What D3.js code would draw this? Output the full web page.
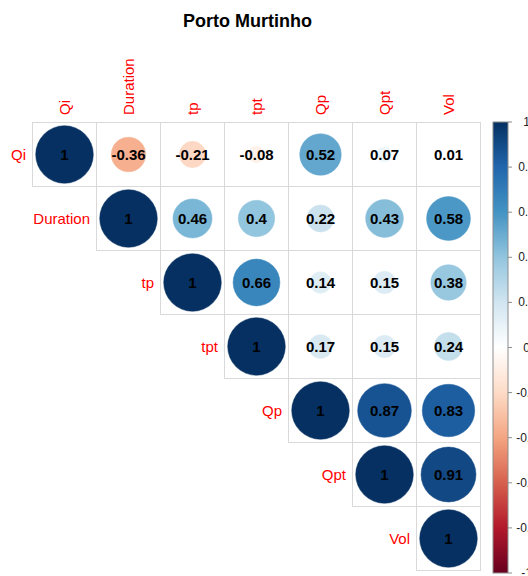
<!DOCTYPE html>
<html>
<head>
<meta charset="utf-8">
<script src="https://cdn.jsdelivr.net/npm/d3@7"></script>
<style>
  html, body { margin: 0; padding: 0; background: #fff; }
  svg { display: block; }
  text { font-family: "Liberation Sans", Arial, sans-serif; }
</style>
</head>
<body>
<svg id="chart" width="528" height="576"></svg>
<script>
const title = "Porto Murtinho";
const variables = ["Qi", "Duration", "tp", "tpt", "Qp", "Qpt", "Vol"];
// upper triangle rows (from diagonal to the right)
const rowQi       = [1, -0.36, -0.21, -0.08, 0.52, 0.07, 0.01];
const rowDuration = [1, 0.46, 0.4, 0.22, 0.43, 0.58];
const rowTp       = [1, 0.66, 0.14, 0.15, 0.38];
const rowTpt      = [1, 0.17, 0.15, 0.24];
const rowQp       = [1, 0.87, 0.83];
const rowQpt      = [1, 0.91];
const rowVol      = [1];
const colorbarTicks = [-1, -0.8, -0.6, -0.4, -0.2, 0, 0.2, 0.4, 0.6, 0.8, 1];
const paletteColors = ["#67001F", "#B2182B", "#D6604D", "#F4A582", "#FDDBC7", "#FFFFFF",
                       "#D1E5F0", "#92C5DE", "#4393C3", "#2166AC", "#053061"];

const rows = [rowQi, rowDuration, rowTp, rowTpt, rowQp, rowQpt, rowVol];
const cells = [];
rows.forEach((r, i) => r.forEach((v, k) => {
  cells.push({ row: variables[i], col: variables[i + k], value: v });
}));

const svg = d3.select("#chart");

const x = d3.scaleBand().domain(variables).range([32.5, 480.5]);
const y = d3.scaleBand().domain(variables).range([122.5, 570.5]);
const color = d3.scaleLinear()
  .domain(d3.range(paletteColors.length).map(i => -1 + 2 * i / (paletteColors.length - 1)))
  .range(paletteColors)
  .interpolate(d3.interpolateRgb);
const rScale = d3.scaleSqrt().domain([0, 1]).range([0, 0.45 * x.bandwidth()]);

// title
svg.append("text")
  .attr("x", 247.5).attr("y", 27)
  .attr("text-anchor", "middle")
  .attr("font-size", 18).attr("font-weight", "bold")
  .attr("fill", "#000")
  .text(title);

// cell backgrounds + grid
const g = svg.append("g");
g.selectAll("rect.cell").data(cells).join("rect")
  .attr("class", "cell")
  .attr("x", d => x(d.col)).attr("y", d => y(d.row))
  .attr("width", x.bandwidth()).attr("height", y.bandwidth())
  .attr("fill", "#fff").attr("stroke", "#d9d9d9").attr("stroke-width", 1);

// circles
g.selectAll("circle").data(cells).join("circle")
  .attr("cx", d => x(d.col) + x.bandwidth() / 2)
  .attr("cy", d => y(d.row) + y.bandwidth() / 2)
  .attr("r", d => rScale(Math.abs(d.value)))
  .attr("fill", d => color(d.value))
  .attr("stroke", d => color(d.value)).attr("stroke-width", 0.5);

// numbers
g.selectAll("text.num").data(cells).join("text")
  .attr("class", "num")
  .attr("x", d => x(d.col) + x.bandwidth() / 2)
  .attr("y", d => y(d.row) + y.bandwidth() / 2)
  .attr("text-anchor", "middle").attr("dominant-baseline", "central")
  .attr("font-size", 15).attr("font-weight", "bold").attr("fill", "#000")
  .text(d => String(d.value));

// row labels
svg.selectAll("text.rowlab").data(variables).join("text")
  .attr("class", "rowlab")
  .attr("x", d => x(d) - 6.5)
  .attr("y", d => y(d) + y.bandwidth() / 2)
  .attr("text-anchor", "end").attr("dominant-baseline", "central")
  .attr("font-size", 15).attr("fill", "#FF0000")
  .text(d => d);

// column labels
svg.selectAll("text.collab").data(variables).join("text")
  .attr("class", "collab")
  .attr("transform", d => `translate(${x(d) + x.bandwidth() / 2},115) rotate(-90)`)
  .attr("text-anchor", "start").attr("dominant-baseline", "central")
  .attr("font-size", 15).attr("fill", "#FF0000")
  .text(d => d);

// colorbar
const cb = d3.scaleLinear().domain([-1, 1]).range([573, 122]);
const defs = svg.append("defs");
const grad = defs.append("linearGradient").attr("id", "cbgrad")
  .attr("x1", 0).attr("y1", 1).attr("x2", 0).attr("y2", 0);
grad.selectAll("stop").data(d3.range(0, 101)).join("stop")
  .attr("offset", d => d + "%")
  .attr("stop-color", d => color(-1 + 2 * d / 100));
svg.append("rect")
  .attr("x", 493).attr("y", cb(1))
  .attr("width", 15).attr("height", cb(-1) - cb(1))
  .attr("fill", "url(#cbgrad)")
  .attr("stroke", "#8c8c8c").attr("stroke-width", 1);
const cbAxis = svg.append("g");
cbAxis.selectAll("line").data(colorbarTicks).join("line")
  .attr("x1", 508).attr("x2", 512)
  .attr("y1", d => cb(d)).attr("y2", d => cb(d))
  .attr("stroke", "#8c8c8c");
cbAxis.selectAll("text").data(colorbarTicks).join("text")
  .attr("x", 526.5).attr("y", d => cb(d))
  .attr("text-anchor", "middle").attr("dominant-baseline", "central")
  .attr("font-size", 12).attr("fill", "#222")
  .text(d => String(d));
</script>
</body>
</html>
